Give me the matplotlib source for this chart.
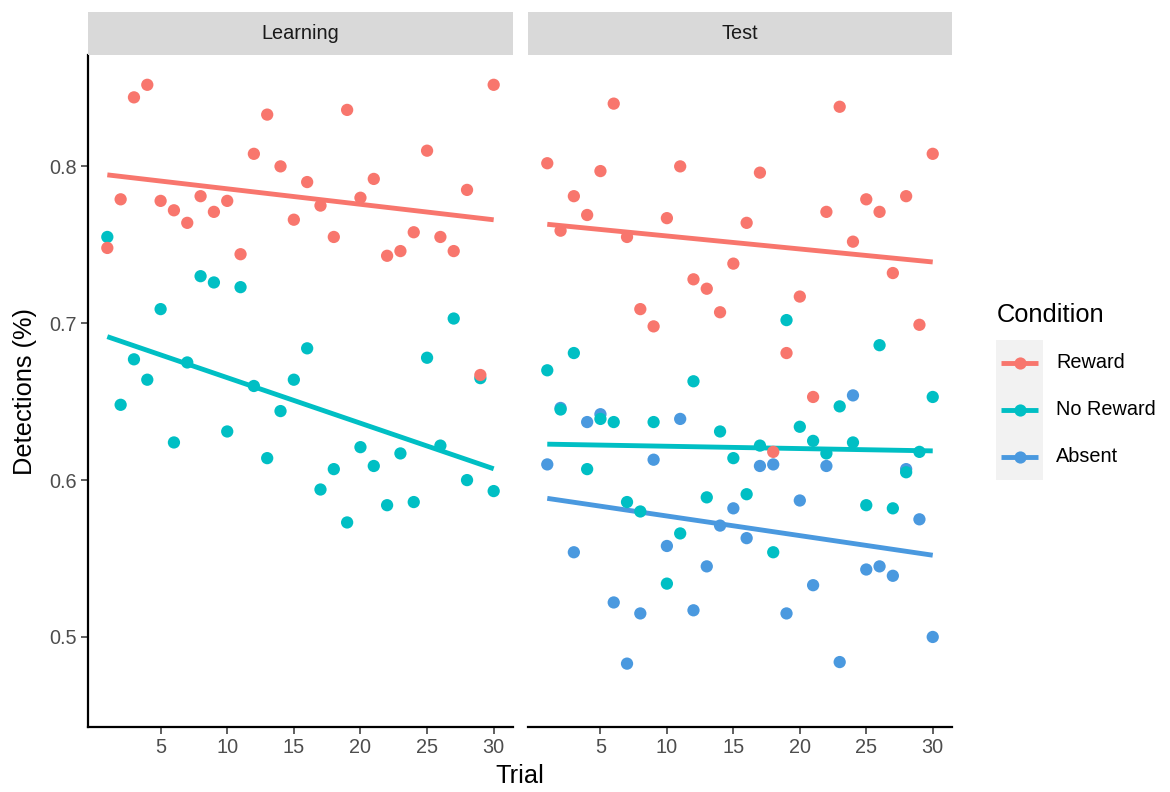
import numpy as np
import matplotlib
matplotlib.use("Agg")
import matplotlib.pyplot as plt
from matplotlib.lines import Line2D
from matplotlib.patches import Rectangle

plt.rcParams['font.family'] = ['Liberation Sans', 'DejaVu Sans']

# ---- data ----
trials = list(range(1, 31))
conditions = ["Reward", "No Reward", "Absent"]
colors = {"Reward": "#F8766D", "No Reward": "#00BFC4", "Absent": "#4A99DF"}
phases = ["Learning", "Test"]

learn_reward = [0.748, 0.779, 0.844, 0.852, 0.778, 0.772, 0.764, 0.781, 0.771, 0.778,
                0.744, 0.808, 0.833, 0.800, 0.766, 0.790, 0.775, 0.755, 0.836, 0.780,
                0.792, 0.743, 0.746, 0.758, 0.810, 0.755, 0.746, 0.785, 0.667, 0.852]
learn_noreward = [0.755, 0.648, 0.677, 0.664, 0.709, 0.624, 0.675, 0.730, 0.726, 0.631,
                  0.723, 0.660, 0.614, 0.644, 0.664, 0.684, 0.594, 0.607, 0.573, 0.621,
                  0.609, 0.584, 0.617, 0.586, 0.678, 0.622, 0.703, 0.600, 0.665, 0.593]
test_reward = [0.802, 0.759, 0.781, 0.769, 0.797, 0.840, 0.755, 0.709, 0.698, 0.767,
               0.800, 0.728, 0.722, 0.707, 0.738, 0.764, 0.796, 0.618, 0.681, 0.717,
               0.653, 0.771, 0.838, 0.752, 0.779, 0.771, 0.732, 0.781, 0.699, 0.808]
test_noreward = [0.670, 0.645, 0.681, 0.607, 0.639, 0.637, 0.586, 0.580, 0.637, 0.534,
                 0.566, 0.663, 0.589, 0.631, 0.614, 0.591, 0.622, 0.554, 0.702, 0.634,
                 0.625, 0.617, 0.647, 0.624, 0.584, 0.686, 0.582, 0.605, 0.618, 0.653]
test_absent = [0.610, 0.646, 0.554, 0.637, 0.642, 0.522, 0.483, 0.515, 0.613, 0.558,
               0.639, 0.517, 0.545, 0.571, 0.582, 0.563, 0.609, 0.610, 0.515, 0.587,
               0.533, 0.609, 0.484, 0.654, 0.543, 0.545, 0.539, 0.607, 0.575, 0.500]

panel_data = {
    "Learning": {"Reward": learn_reward, "No Reward": learn_noreward},
    "Test": {"Reward": test_reward, "No Reward": test_noreward, "Absent": test_absent},
}

xticks = [5, 10, 15, 20, 25, 30]
yticks = [0.5, 0.6, 0.7, 0.8]

# ---- figure ----
W, H = 1170, 792
fig = plt.figure(figsize=(W / 100, H / 100), dpi=100)

def fx(px):
    return px / W

def fy(py):
    return 1 - py / H

panel_px = {"Learning": (88, 513), "Test": (528, 952)}
top_px, bot_px = 55, 727
strip_top = 12

tick_color = "#4D4D4D"
x = np.array(trials, dtype=float)

for phase in phases:
    x0, x1 = panel_px[phase]
    ax = fig.add_axes([fx(x0), fy(bot_px), fx(x1) - fx(x0), fy(top_px) - fy(bot_px)])
    ax.set_xlim(-0.45, 31.45)
    ax.set_ylim(0.4426, 0.871)
    # regression lines first
    for cond in ["Reward", "No Reward", "Absent"]:
        if cond not in panel_data[phase]:
            continue
        y = np.array(panel_data[phase][cond])
        b, a = np.polyfit(x, y, 1)
        xs = np.array([x.min(), x.max()])
        ax.plot(xs, a + b * xs, color=colors[cond], lw=3.5, solid_capstyle="butt", zorder=2)
    for cond in ["Absent", "No Reward", "Reward"]:
        if cond not in panel_data[phase]:
            continue
        y = panel_data[phase][cond]
        ax.scatter(trials, y, s=78, color=colors[cond], edgecolors="none", zorder=3)

    for s in ["top", "right"]:
        ax.spines[s].set_visible(False)
    ax.spines["bottom"].set_linewidth(1.6)
    ax.spines["bottom"].set_color("black")
    ax.set_xticks(xticks)
    ax.set_xticklabels([str(t) for t in xticks])
    ax.tick_params(axis="x", length=5, width=1.1, color="#333333", labelcolor=tick_color,
                   labelsize=14.3, pad=3)
    if phase == "Learning":
        ax.spines["left"].set_linewidth(1.6)
        ax.spines["left"].set_color("black")
        ax.set_yticks(yticks)
        ax.set_yticklabels([f"{t:.1f}" for t in yticks])
        ax.tick_params(axis="y", length=5, width=1.1, color="#333333", labelcolor=tick_color,
                       labelsize=14.3, pad=3)
    else:
        ax.spines["left"].set_visible(False)
        ax.set_yticks([])
    ax.set_facecolor("white")

    # strip
    fig.add_artist(Rectangle((fx(x0), fy(top_px)), fx(x1) - fx(x0), fy(strip_top) - fy(top_px),
                             transform=fig.transFigure, facecolor="#D9D9D9", edgecolor="none"))
    fig.text(fx((x0 + x1) / 2), fy((strip_top + top_px) / 2), phase, ha="center", va="center",
             fontsize=14.3, color="#1A1A1A")

# axis titles
fig.text(fx(520), fy(776), "Trial", ha="center", va="center", fontsize=18.3, color="black")
fig.text(fx(25), fy(391), "Detections (%)", ha="center", va="center", rotation=90,
         fontsize=18.3, color="black")

# legend
fig.text(fx(997), fy(315), "Condition", ha="left", va="center", fontsize=18.3, color="black")
fig.add_artist(Rectangle((fx(996), fy(480)), fx(1043) - fx(996), fy(340) - fy(480),
                         transform=fig.transFigure, facecolor="#F2F2F2", edgecolor="none"))
leg_y = {"Reward": 363, "No Reward": 410, "Absent": 457}
for cond in conditions:
    yy = fy(leg_y[cond])
    fig.add_artist(Line2D([fx(1001), fx(1038)], [yy, yy], transform=fig.transFigure,
                          color=colors[cond], lw=3.5, solid_capstyle="butt"))
    fig.add_artist(Line2D([fx(1019.5)], [yy], transform=fig.transFigure, marker="o",
                          markersize=8.8, markeredgewidth=0, color=colors[cond]))
    fig.text(fx(1056), yy, cond, ha="left", va="center", fontsize=14.3, color="black")

fig.savefig("out.png", dpi=100, facecolor="white")
